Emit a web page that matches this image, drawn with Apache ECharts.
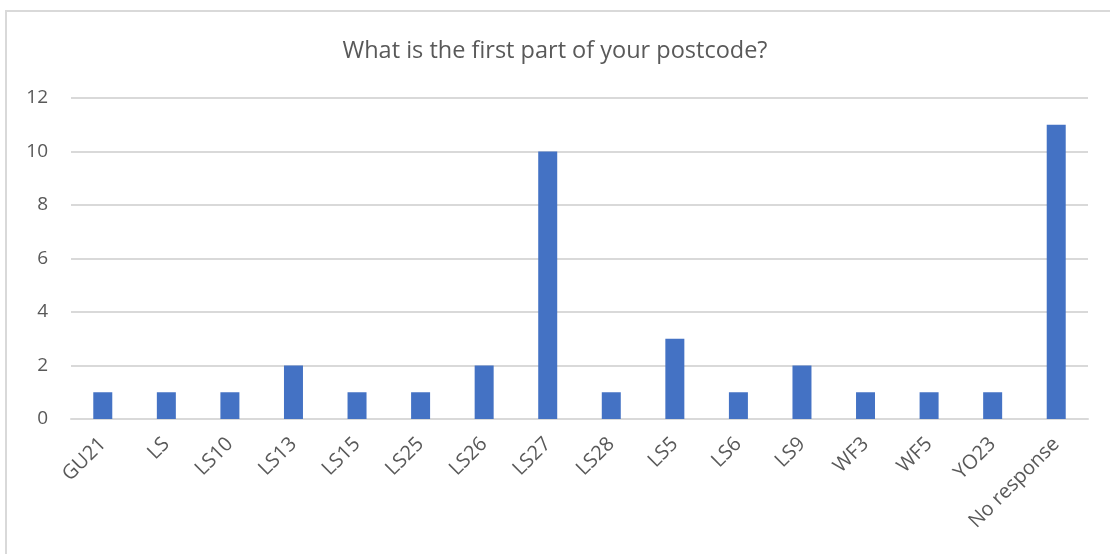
<!DOCTYPE html>
<html>
<head>
<meta charset="utf-8">
<script src="https://cdn.jsdelivr.net/npm/echarts@6/dist/echarts.min.js"></script>
<style>
  html, body { margin: 0; padding: 0; background: #fff; }
  #chart { width: 1110px; height: 554px; }
</style>
</head>
<body>
<div id="chart"></div>
<script>
  const titleText = "What is the first part of your postcode?";
  const postcodes = ["GU21", "LS", "LS10", "LS13", "LS15", "LS25", "LS26", "LS27",
                     "LS28", "LS5", "LS6", "LS9", "WF3", "WF5", "YO23", "No response"];
  const counts = [1, 1, 1, 2, 1, 1, 2, 10, 1, 3, 1, 2, 1, 1, 1, 11];
  const yTicks = { min: 0, max: 12, interval: 2 };

  const chart = echarts.init(document.getElementById("chart"));
  const textColor = "#595959";
  const font = "'Open Sans', sans-serif";

  const option = {
    animation: false,
    title: {
      text: titleText,
      left: "center",
      top: 34,
      textStyle: { fontFamily: font, fontSize: 23.5, fontWeight: "normal", color: textColor }
    },
    graphic: [{
      type: "rect",
      shape: { x: 6, y: 11, width: 1120, height: 600 },
      style: { fill: "none", stroke: "#d9d9d9", lineWidth: 2 }
    }],
    grid: { left: 71, right: 22, top: 98, bottom: 135, containLabel: false },
    xAxis: {
      type: "category",
      data: postcodes,
      axisLine: { show: true, lineStyle: { color: "#d9d9d9", width: 2 } },
      axisTick: { show: false },
      axisLabel: {
        rotate: 45,
        interval: 0,
        margin: 22,
        fontFamily: font,
        fontSize: 20,
        color: textColor
      }
    },
    yAxis: {
      type: "value",
      min: yTicks.min,
      max: yTicks.max,
      interval: yTicks.interval,
      axisLine: { show: false },
      axisTick: { show: false },
      splitLine: { lineStyle: { color: "#d9d9d9", width: 2 } },
      axisLabel: { margin: 23, fontFamily: font, fontSize: 19, color: textColor }
    },
    series: [{
      type: "bar",
      data: counts,
      barWidth: 19,
      itemStyle: { color: "#4472C4" }
    }]
  };
  chart.setOption(option);
</script>
</body>
</html>
